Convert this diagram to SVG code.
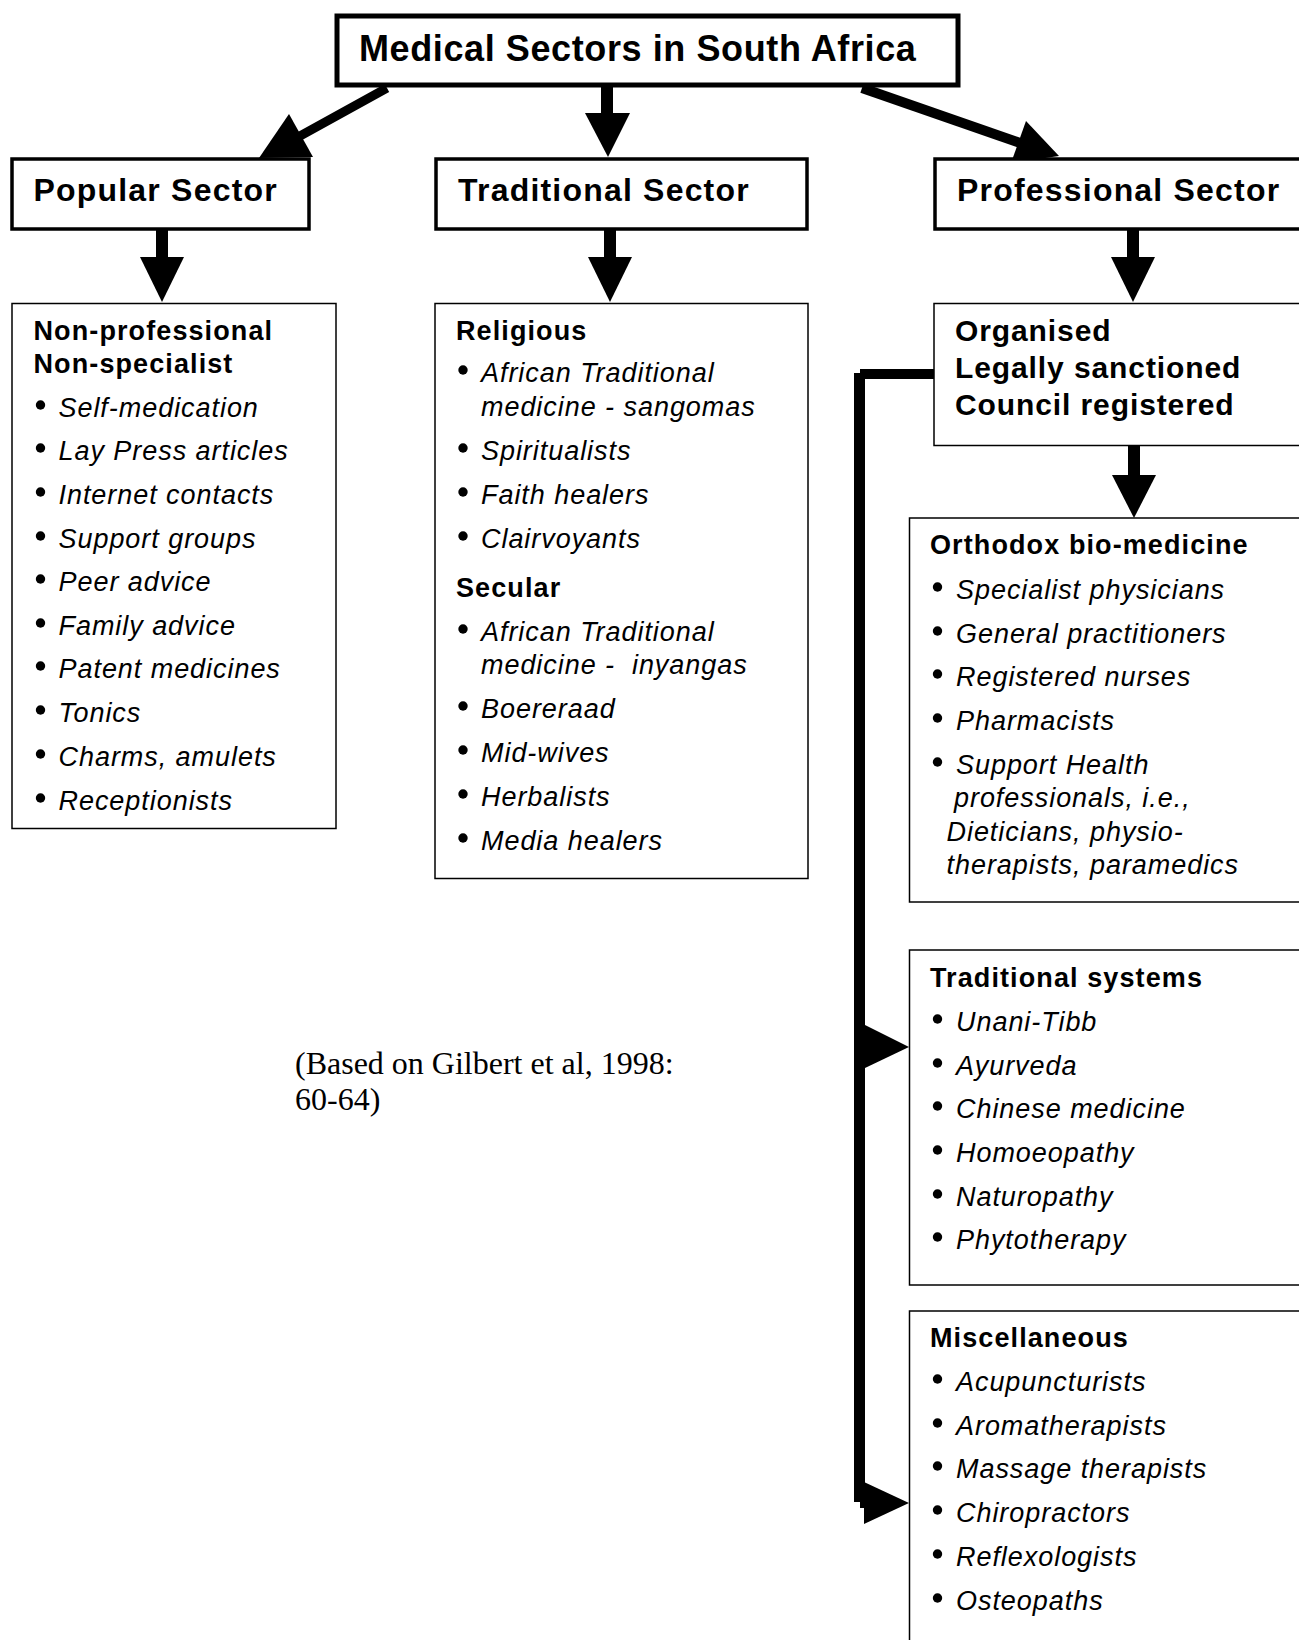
<svg xmlns="http://www.w3.org/2000/svg" width="1299" height="1640" viewBox="0 0 1299 1640">
<style>
text{fill:#000;font-family:"Liberation Sans",Arial,sans-serif}
.title{font-weight:bold;font-size:36px;letter-spacing:0.6px}
.sec{font-weight:bold;font-size:32px;letter-spacing:1.2px}
.org{font-weight:bold;font-size:30px;letter-spacing:0.9px}
.hd{font-weight:bold;font-size:27px;letter-spacing:1.1px}
.it{font-style:italic;font-size:27px;letter-spacing:0.95px}
.cite{font-family:"Liberation Serif","Times New Roman",serif;font-size:32px}
.bx{fill:#fff;stroke:#000;stroke-width:1.5}
.sbx{fill:#fff;stroke:#000;stroke-width:3.5}
.tbx{fill:#fff;stroke:#000;stroke-width:5}
.ln{stroke:#000;fill:none}
.hd2{fill:#000}
</style>
<rect width="1299" height="1640" fill="#fff"/>

<g id="connectors">
  <line class="ln" x1="387" y1="88" x2="300" y2="136" stroke-width="9"/>
  <polygon class="hd2" points="289,114 313,157 259,158"/>
  <line class="ln" x1="607" y1="87" x2="607" y2="115" stroke-width="12"/>
  <polygon class="hd2" points="585,113 630,113 608,157"/>
  <line class="ln" x1="862" y1="88" x2="1020" y2="143" stroke-width="10"/>
  <polygon class="hd2" points="1026,121 1011,163 1059,156"/>
  <line class="ln" x1="162" y1="230" x2="162" y2="259" stroke-width="12"/>
  <polygon class="hd2" points="140,257 184,257 162,302"/>
  <line class="ln" x1="610" y1="230" x2="610" y2="259" stroke-width="12"/>
  <polygon class="hd2" points="588,257 632,257 610,302"/>
  <line class="ln" x1="1133" y1="230" x2="1133" y2="259" stroke-width="12"/>
  <polygon class="hd2" points="1111,257 1155,257 1133,302"/>
  <line class="ln" x1="1134" y1="446" x2="1134" y2="477" stroke-width="12"/>
  <polygon class="hd2" points="1112,475 1156,475 1134,518"/>
  <rect class="hd2" x="860" y="369" width="74" height="10"/>
  <rect class="hd2" x="854" y="373" width="11" height="1129"/>
  <rect class="hd2" x="860" y="1498" width="6" height="10"/>
  <polygon class="hd2" points="865,1025 865,1068 909,1047"/>
  <polygon class="hd2" points="864,1482 864,1524 909,1503"/>
</g>

<g id="title">
  <rect class="tbx" x="337" y="16" width="621" height="69"/>
  <text class="title" x="359" y="61">Medical Sectors in South Africa</text>
</g>

<g id="popular-sector">
  <rect class="sbx" x="12" y="159" width="297" height="70"/>
  <text class="sec" x="33.5" y="201">Popular Sector</text>
</g>
<g id="traditional-sector">
  <rect class="sbx" x="436" y="159" width="371" height="70"/>
  <text class="sec" x="458" y="201">Traditional Sector</text>
</g>
<g id="professional-sector">
  <rect class="sbx" x="935" y="159" width="380" height="70"/>
  <text class="sec" x="957" y="201">Professional Sector</text>
</g>

<g id="popular-list">
  <rect class="bx" x="12" y="303.5" width="324" height="525"/>
  <text class="hd" x="33.5" y="340">Non-professional</text>
  <text class="hd" x="33.5" y="373">Non-specialist</text>
  <g>
    <circle cx="40.5" cy="405" r="4.7"/><text class="it" x="58.5" y="417">Self-medication</text>
    <circle cx="40.5" cy="448" r="4.7"/><text class="it" x="58.5" y="460">Lay Press articles</text>
    <circle cx="40.5" cy="492" r="4.7"/><text class="it" x="58.5" y="504">Internet contacts</text>
    <circle cx="40.5" cy="536" r="4.7"/><text class="it" x="58.5" y="548">Support groups</text>
    <circle cx="40.5" cy="579" r="4.7"/><text class="it" x="58.5" y="591">Peer advice</text>
    <circle cx="40.5" cy="623" r="4.7"/><text class="it" x="58.5" y="635">Family advice</text>
    <circle cx="40.5" cy="666" r="4.7"/><text class="it" x="58.5" y="678">Patent medicines</text>
    <circle cx="40.5" cy="710" r="4.7"/><text class="it" x="58.5" y="722">Tonics</text>
    <circle cx="40.5" cy="754" r="4.7"/><text class="it" x="58.5" y="766">Charms, amulets</text>
    <circle cx="40.5" cy="798" r="4.7"/><text class="it" x="58.5" y="810">Receptionists</text>
  </g>
</g>

<g id="traditional-list">
  <rect class="bx" x="435" y="303.5" width="373" height="575"/>
  <text class="hd" x="456" y="340">Religious</text>
  <circle cx="463" cy="370" r="4.7"/><text class="it" x="481" y="382">African Traditional</text>
  <text class="it" x="481" y="416">medicine - sangomas</text>
  <circle cx="463" cy="448" r="4.7"/><text class="it" x="481" y="460">Spiritualists</text>
  <circle cx="463" cy="492" r="4.7"/><text class="it" x="481" y="504">Faith healers</text>
  <circle cx="463" cy="536" r="4.7"/><text class="it" x="481" y="548">Clairvoyants</text>
  <text class="hd" x="456" y="597">Secular</text>
  <circle cx="463" cy="629" r="4.7"/><text class="it" x="481" y="641">African Traditional</text>
  <text class="it" x="481" y="674" xml:space="preserve">medicine -  inyangas</text>
  <circle cx="463" cy="706" r="4.7"/><text class="it" x="481" y="718">Boereraad</text>
  <circle cx="463" cy="750" r="4.7"/><text class="it" x="481" y="762">Mid-wives</text>
  <circle cx="463" cy="794" r="4.7"/><text class="it" x="481" y="806">Herbalists</text>
  <circle cx="463" cy="838" r="4.7"/><text class="it" x="481" y="850">Media healers</text>
</g>

<g id="organised">
  <rect class="bx" x="934" y="303.5" width="380" height="142"/>
  <text class="org" x="955" y="341">Organised</text>
  <text class="org" x="955" y="378">Legally sanctioned</text>
  <text class="org" x="955" y="415">Council registered</text>
</g>

<g id="orthodox">
  <rect class="bx" x="909.5" y="518" width="400" height="384"/>
  <text class="hd" x="930" y="554">Orthodox bio-medicine</text>
  <circle cx="937.5" cy="587" r="4.7"/><text class="it" x="956" y="599">Specialist physicians</text>
  <circle cx="937.5" cy="631" r="4.7"/><text class="it" x="956" y="643">General practitioners</text>
  <circle cx="937.5" cy="674" r="4.7"/><text class="it" x="956" y="686">Registered nurses</text>
  <circle cx="937.5" cy="718" r="4.7"/><text class="it" x="956" y="730">Pharmacists</text>
  <circle cx="937.5" cy="762" r="4.7"/><text class="it" x="956" y="774">Support Health</text>
  <text class="it" x="954" y="807">professionals, i.e.,</text>
  <text class="it" x="946.5" y="841">Dieticians, physio-</text>
  <text class="it" x="946.5" y="874">therapists, paramedics</text>
</g>

<g id="traditional-systems">
  <rect class="bx" x="909.5" y="950" width="400" height="335"/>
  <text class="hd" x="930" y="987">Traditional systems</text>
  <circle cx="937.5" cy="1019" r="4.7"/><text class="it" x="956" y="1031">Unani-Tibb</text>
  <circle cx="937.5" cy="1063" r="4.7"/><text class="it" x="956" y="1075">Ayurveda</text>
  <circle cx="937.5" cy="1106" r="4.7"/><text class="it" x="956" y="1118">Chinese medicine</text>
  <circle cx="937.5" cy="1150" r="4.7"/><text class="it" x="956" y="1162">Homoeopathy</text>
  <circle cx="937.5" cy="1194" r="4.7"/><text class="it" x="956" y="1206">Naturopathy</text>
  <circle cx="937.5" cy="1237" r="4.7"/><text class="it" x="956" y="1249">Phytotherapy</text>
</g>

<g id="miscellaneous">
  <rect class="bx" x="909.5" y="1311" width="400" height="350"/>
  <text class="hd" x="930" y="1347">Miscellaneous</text>
  <circle cx="937.5" cy="1379" r="4.7"/><text class="it" x="956" y="1391">Acupuncturists</text>
  <circle cx="937.5" cy="1423" r="4.7"/><text class="it" x="956" y="1435">Aromatherapists</text>
  <circle cx="937.5" cy="1466" r="4.7"/><text class="it" x="956" y="1478">Massage therapists</text>
  <circle cx="937.5" cy="1510" r="4.7"/><text class="it" x="956" y="1522">Chiropractors</text>
  <circle cx="937.5" cy="1554" r="4.7"/><text class="it" x="956" y="1566">Reflexologists</text>
  <circle cx="937.5" cy="1598" r="4.7"/><text class="it" x="956" y="1610">Osteopaths</text>
</g>

<g id="citation">
  <text class="cite" x="295" y="1074">(Based on Gilbert et al, 1998:</text>
  <text class="cite" x="295" y="1110">60-64)</text>
</g>
</svg>
